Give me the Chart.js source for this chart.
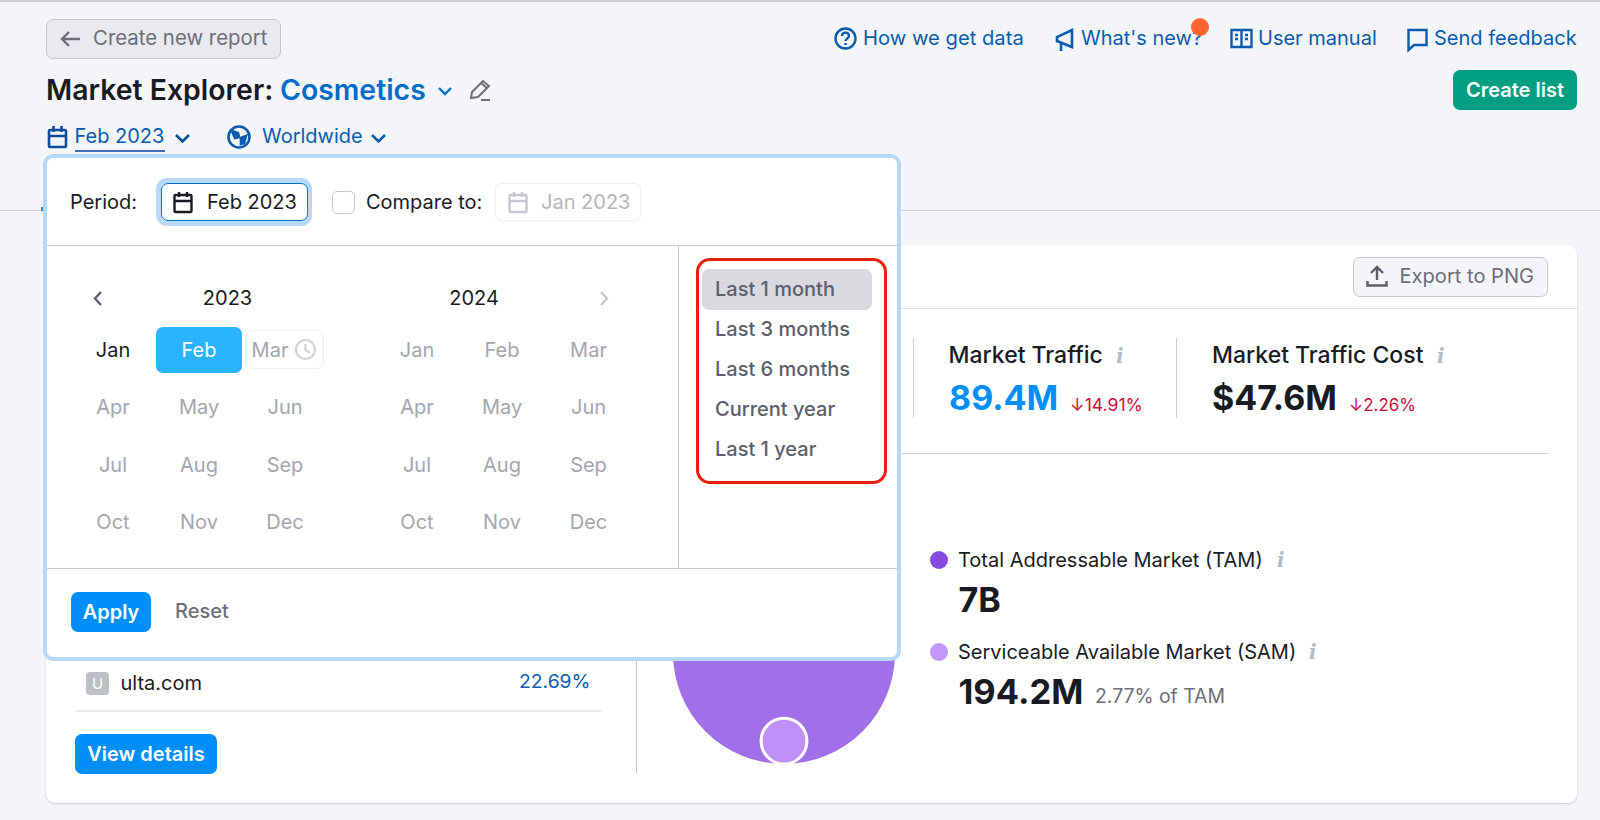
<!DOCTYPE html>
<html>
<head>
<meta charset="utf-8">
<title>Market Explorer: Cosmetics</title>
<script src="https://cdn.jsdelivr.net/npm/chart.js@4"></script>
<style>
  html, body { margin: 0; padding: 0; }
  body { width: 1600px; height: 820px; overflow: hidden; position: relative; background: #f4f5f9; font-family: Inter, "Noto Sans", sans-serif; color: #191b23; }
  .box { position: absolute; box-sizing: border-box; }
  .t { position: absolute; white-space: nowrap; line-height: 1; transform: translateY(-50%); font-size: 20px; }
  .c { transform: translate(-50%, -50%); }
  .r { transform: translate(-100%, -50%); }
  .link { color: #0a5cad; }
  .muted { color: #6c6e79; }
  .off { color: #a4a6ae; }
  .big { font-size: 34px; font-weight: 700; }
  .delta { font-size: 17px; color: #c8103b; }
  .info { font-family: "DejaVu Serif", serif; font-style: italic; font-weight: 700; color: #b4bbbf; font-size: 20px; }
  .range { font-weight: 500; color: #5c5f6b; }
  svg { position: absolute; overflow: visible; fill: none; }
  #marketChart { position: absolute; left: 663.5px; top: 534px; }
  #popup { position: absolute; left: 43px; top: 154px; width: 858px; height: 507px; box-sizing: border-box; background: #fff; border: 4px solid #b8d8fa; border-radius: 10px; z-index: 5; }
  #layer { position: absolute; left: -47px; top: -158px; width: 1600px; height: 820px; }
</style>
</head>
<body>
  <div class="box" style="left:0;top:0;width:1600px;height:2px;background:#cdd0d8"></div>

  <!-- header -->
  <div class="box" style="left:46px;top:19px;width:235px;height:40px;background:#e9eaf0;border:1px solid #c4c7cf;border-radius:7px"></div>
  <svg style="left:60px;top:30px" width="22" height="18" stroke="#6c6e79" stroke-width="2.4"><path d="M20 9H2M9 2L2 9l7 7"/></svg>
  <div class="t muted" style="left:93px;top:38px;font-size:20.4px">Create new report</div>

  <div class="t" style="left:46px;top:90px;font-size:28.4px;font-weight:600">Market Explorer:</div>
  <div class="t" style="left:280px;top:90px;font-size:28.4px;font-weight:600;color:#006dca">Cosmetics</div>
  <svg style="left:438px;top:87px" width="14" height="9" stroke="#006dca" stroke-width="2.4"><path d="M1 1l6 6 6-6"/></svg>
  <svg style="left:468px;top:79px" width="24" height="24" stroke="#6c6e79" stroke-width="2"><path d="M3 19l1-6L15 2l6 5L10 18zM13 4l6 5M13 21h9"/></svg>

  <svg style="left:47px;top:125px" width="21" height="24" stroke="#0a4d9a" stroke-width="2.6"><rect x="2" y="5" width="17" height="17" rx="1"/><path d="M2 11h17M6.500 1v6M14.500 1v6"/></svg>
  <div class="t link" style="left:74.500px;top:136px">Feb 2023</div>
  <div class="box" style="left:75px;top:150px;width:90px;height:2px;background:#3f6fae"></div>
  <svg style="left:175px;top:134px" width="15" height="10" stroke="#0a4d9a" stroke-width="2.600"><path d="M1 1l6.500 6.500L14 1"/></svg>
  <svg style="left:227px;top:125px" width="24" height="24" stroke="#0a5cad" stroke-width="2.600"><circle cx="12" cy="12" r="10.500"/><path d="M5 6l6 2 1 4-4 1zM14 13l5-2-2 7-3 1z" fill="#0a5cad"/></svg>
  <div class="t link" style="left:262px;top:136px">Worldwide</div>
  <svg style="left:371px;top:134px" width="15" height="10" stroke="#0a5cad" stroke-width="2.600"><path d="M1 1l6.500 6.500L14 1"/></svg>

  <svg style="left:834px;top:27px" width="23" height="23" stroke="#0a5cad" stroke-width="2.400"><circle cx="11.500" cy="11.500" r="10"/><path d="M8 9c0-4.500 7-4.500 7 0 0 2.500-3.500 2.500-3.500 5M11.500 16v2"/></svg>
  <div class="t link" style="left:863px;top:38px;font-size:20.2px">How we get data</div>
  <svg style="left:1055px;top:28px" width="20" height="24" stroke="#0a5cad" stroke-width="2.600"><path d="M17 2v17L2 13V9zM6 14v9"/></svg>
  <div class="t link" style="left:1081px;top:38px">What's new?</div>
  <div class="box" style="left:1191px;top:18px;width:18px;height:18px;border-radius:50%;background:#ff642d"></div>
  <svg style="left:1230px;top:28px" width="23" height="22" stroke="#0a5cad" stroke-width="2.400"><path d="M1.500 2h20v17h-20zM11.500 2v17M5 7h3M5 11h3M15 7h3M15 11h3"/></svg>
  <div class="t link" style="left:1258px;top:38px">User manual</div>
  <svg style="left:1407px;top:28px" width="21" height="24" stroke="#0a5cad" stroke-width="2.400"><path d="M1.500 2h18v15H7l-5.500 5z"/></svg>
  <div class="t link" style="left:1434px;top:38px">Send feedback</div>

  <div class="box" style="left:1453px;top:70px;width:124px;height:40px;background:#009f81;border-radius:7px"></div>
  <div class="t c" style="left:1515px;top:90px;color:#fff;font-weight:600">Create list</div>

  <div class="box" style="left:0;top:209.500px;width:1600px;height:1.500px;background:#cdd0d8"></div>
  <div class="box" style="left:41px;top:207px;width:6px;height:4px;background:#008ff8"></div>

  <!-- card behind the period popup -->
  <div class="box" style="left:46px;top:245px;width:1531px;height:558px;background:#fff;border-radius:9px;box-shadow:0 1px 2px rgba(60,70,90,.25)"></div>
  <div class="box" style="left:46px;top:308px;width:1531px;height:1px;background:#dfe2e8"></div>
  <div class="box" style="left:1353px;top:257px;width:195px;height:40px;background:#f4f5f9;border:1px solid #c4c7cf;border-radius:7px"></div>
  <svg style="left:1366px;top:265px" width="22" height="22" stroke="#5c5f6b" stroke-width="2.400"><path d="M11 15V2M5 8l6-6 6 6M1.500 16v4.500h19V16"/></svg>
  <div class="t muted" style="left:1399.500px;top:276px;font-size:20.1px">Export to PNG</div>

  <div class="box" style="left:913px;top:338px;width:1px;height:80px;background:#cdd0d8"></div>
  <div class="t" style="left:948.500px;top:355px;font-size:23px;font-weight:500">Market Traffic</div>
  <div class="t info" style="left:1116px;top:356px">i</div>
  <div class="t big" style="left:949px;top:398px;color:#008ff8">89.4M</div>
  <div class="t delta" style="left:1070px;top:405px;font-size:17.6px">↓14.91%</div>
  <div class="box" style="left:1176px;top:338px;width:1px;height:80px;background:#cdd0d8"></div>
  <div class="t" style="left:1212px;top:355px;font-size:23px;font-weight:500">Market Traffic Cost</div>
  <div class="t info" style="left:1437px;top:356px">i</div>
  <div class="t big" style="left:1212px;top:398px">$47.6M</div>
  <div class="t delta" style="left:1349px;top:405px">↓2.26%</div>
  <div class="box" style="left:636px;top:453px;width:912px;height:1px;background:#cdd0d8"></div>

  <!-- left list -->
  <div class="box" style="left:75px;top:657px;width:526px;height:2px;background:#e8e9ee"></div>
  <div class="box" style="left:86px;top:672px;width:23px;height:23px;background:#bcc2c4;border-radius:4px"></div>
  <div class="t c" style="left:97.500px;top:683px;font-size:15px;color:#fff">U</div>
  <div class="t" style="left:120.500px;top:683px">ulta.com</div>
  <div class="t r link" style="left:590.500px;top:682px;font-size:19.3px">22.69%</div>
  <div class="box" style="left:75px;top:710px;width:526px;height:2px;background:#e8e9ee"></div>
  <div class="box" style="left:75px;top:734px;width:142px;height:40px;background:#008ff8;border-radius:7px"></div>
  <div class="t c" style="left:146px;top:754px;color:#fff;font-weight:600">View details</div>
  <div class="box" style="left:636px;top:460px;width:1px;height:313px;background:#c4c7cf"></div>

  <!-- market circles -->
  <canvas id="marketChart" width="240" height="240"></canvas>
  <div id="marketLegend"></div>

  <!-- period popup -->
  <div id="popup"><div id="layer">
    <div class="t" style="left:70px;top:202px">Period:</div>
    <div class="box" style="left:156px;top:178px;width:156px;height:48px;border:5px solid #b8d8fa;border-radius:11px"></div>
    <div class="box" style="left:161px;top:183px;width:147px;height:38px;border:1.500px solid #006dca;border-radius:7px"></div>
    <svg style="left:173px;top:191px" width="20" height="23" stroke="#191b23" stroke-width="2.400"><rect x="1.500" y="4" width="17" height="17" rx="1"/><path d="M1.500 10h17M6 1v5M14 1v5"/></svg>
    <div class="t" style="left:207px;top:202px">Feb 2023</div>
    <div class="box" style="left:332px;top:191px;width:23px;height:23px;border:1.500px solid #c4c7cf;border-radius:5px"></div>
    <div class="t" style="left:366px;top:202px">Compare to:</div>
    <div class="box" style="left:495px;top:183px;width:146px;height:38px;border:1.500px solid #eceef1;border-radius:7px"></div>
    <svg style="left:508px;top:191px" width="20" height="23" stroke="#c4c7cf" stroke-width="2.400"><rect x="1.500" y="4" width="17" height="17" rx="1"/><path d="M1.500 10h17M6 1v5M14 1v5"/></svg>
    <div class="t" style="left:541px;top:202px;color:#b4b6bc">Jan 2023</div>
    <div class="box" style="left:47px;top:245px;width:850px;height:1px;background:#c4c7cf"></div>
    <div class="box" style="left:678px;top:245px;width:1px;height:323px;background:#c4c7cf"></div>

    <svg style="left:93px;top:291px" width="10" height="15" stroke="#5c5f6b" stroke-width="2.400"><path d="M8 1L2 7.500 8 14"/></svg>
    <div class="t c" style="left:227.500px;top:298px">2023</div>
    <div class="t c" style="left:474px;top:298px">2024</div>
    <svg style="left:599px;top:291px" width="10" height="15" stroke="#c4c7cf" stroke-width="2.400"><path d="M2 1l6 6.500L2 14"/></svg>
    <div class="box" style="left:156px;top:327px;width:86px;height:46px;background:#2bb3ff;border-radius:7px"></div>
    <div class="box" style="left:245px;top:330px;width:79px;height:39px;border:1.500px solid #eceef1;border-radius:7px"></div>
    <svg style="left:295px;top:339px" width="21" height="21" stroke="#d0d2d8" stroke-width="2.200"><circle cx="10.500" cy="10.500" r="9.500"/><path d="M10.500 5v6l4 3"/></svg>
    <div id="calendar"></div>

    <div class="box" style="left:696px;top:258px;width:191px;height:226px;border:3.500px solid #e8210f;border-radius:14px"></div>
    <div class="box" style="left:702px;top:269px;width:170px;height:41px;background:#d9dadf;border-radius:7px"></div>
    <div id="ranges"></div>

    <div class="box" style="left:47px;top:568px;width:850px;height:1px;background:#c4c7cf"></div>
    <div class="box" style="left:71px;top:592px;width:80px;height:40px;background:#008ff8;border-radius:7px"></div>
    <div class="t c" style="left:111px;top:612px;color:#fff;font-weight:600">Apply</div>
    <div class="t muted" style="left:175px;top:611px;font-weight:500">Reset</div>
  </div></div>

<script>
  // Values
  const marketLabels = ['Total Addressable Market (TAM)', 'Serviceable Available Market (SAM)'];
  const marketValues = [7000, 194.2]; // millions
  const marketValueLabels = ['7B', '194.2M'];
  const marketColors = ['#a170e8', '#c08ff9'];
  const legendColors = ['#8649e1', '#c396fa'];

  const calendarYears = ['2023', '2024'];
  const months = ['Jan', 'Feb', 'Mar', 'Apr', 'May', 'Jun', 'Jul', 'Aug', 'Sep', 'Oct', 'Nov', 'Dec'];
  const rangeOptions = ['Last 1 month', 'Last 3 months', 'Last 6 months', 'Current year', 'Last 1 year'];

  // Circles sit on a common baseline, 1 axis unit = 1 pixel
  const tamRadius = 111;
  const radiusOf = v => tamRadius * Math.pow(v / marketValues[0], 0.44);

  function addText(parent, cls, left, top, text, extra) {
    const el = document.createElement('div');
    el.className = 't ' + cls;
    el.style.cssText = 'left:' + left + 'px;top:' + top + 'px;' + (extra || '');
    el.textContent = text;
    parent.appendChild(el);
  }

  new Chart(document.getElementById('marketChart'), {
    type: 'bubble',
    data: {
      datasets: marketLabels.map((label, i) => ({
        label: label,
        data: [{ x: 0, y: radiusOf(marketValues[i]), r: radiusOf(marketValues[i]) }],
        backgroundColor: marketColors[i],
        borderColor: i === 0 ? marketColors[i] : '#fff',
        borderWidth: i === 0 ? 0 : 3,
        order: marketLabels.length - i, // smaller circle on top
        clip: false
      }))
    },
    options: {
      responsive: false,
      animation: false,
      // no room reserved for the bubbles, the axis range has to stay 1:1 with pixels
      layout: { padding: 0, autoPadding: false },
      plugins: { legend: { display: false }, tooltip: { enabled: false } },
      scales: {
        x: { display: false, min: -120, max: 120 },
        y: { display: false, min: -10, max: 230 }
      }
    }
  });

  // Legend beside the circles
  const legend = document.getElementById('marketLegend');
  marketLabels.forEach((label, i) => {
    const top = 560 + i * 92;
    const dot = document.createElement('div');
    dot.className = 'box';
    dot.style.cssText = 'left:930px;top:' + (top - 9) + 'px;width:18px;height:18px;border-radius:50%;background:' + legendColors[i];
    legend.appendChild(dot);
    addText(legend, '', 958, top, label);
    addText(legend, 'info', i === 0 ? 1277 : 1309, top, 'i');
    addText(legend, 'big', 958.5, top + 40, marketValueLabels[i], i === 1 ? 'font-size:34.5px' : '');
  });
  addText(legend, 'muted', 1095, 697, '2.77% of TAM', 'font-size:19.4px');

  // Month grid for both years
  const calendar = document.getElementById('calendar');
  const columns = [[113, 199, 285], [417, 502, 588.5]];
  const rows = [350, 407, 465, 522];
  calendarYears.forEach((year, y) => {
    months.forEach((month, m) => {
      let left = columns[y][m % 3];
      let color = '#a4a6ae';
      if (y === 0 && m === 0) color = '#191b23';
      if (y === 0 && m === 1) color = '#fff';
      if (y === 0 && m === 2) left = 270;
      addText(calendar, 'c', left, rows[Math.floor(m / 3)], month, 'color:' + color);
    });
  });

  const ranges = document.getElementById('ranges');
  rangeOptions.forEach((option, i) => {
    addText(ranges, 'range', 715, 289 + i * 40, option);
  });
</script>
</body>
</html>
